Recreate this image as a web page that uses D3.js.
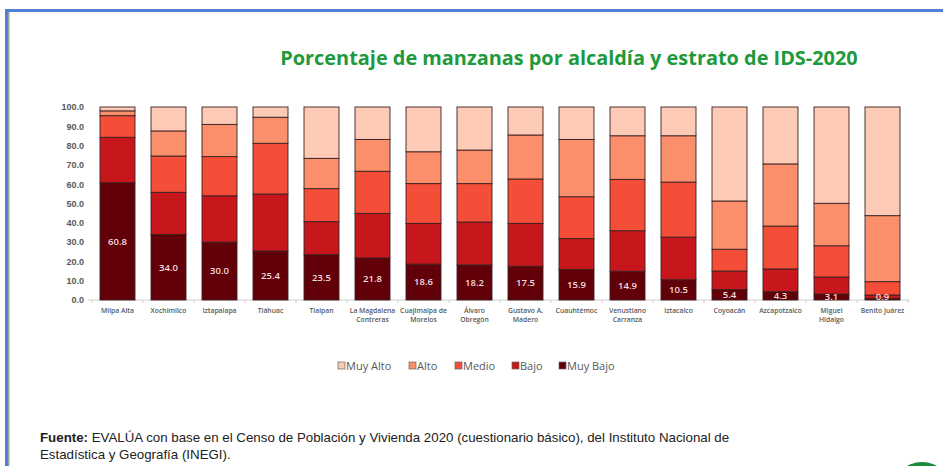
<!DOCTYPE html>
<html>
<head>
<meta charset="utf-8">
<script src="https://cdn.jsdelivr.net/npm/d3@7"></script>
<style>
  html, body { margin: 0; padding: 0; background: #fff; }
  svg { display: block; font-family: "Open Sans", "DejaVu Sans", sans-serif; }
</style>
</head>
<body>
<svg width="943" height="466"></svg>
<script>
// alcaldías, in the order shown
var categories = ["Milpa Alta", "Xochimilco", "Iztapalapa", "Tláhuac", "Tlalpan",
  "La Magdalena Contreras", "Cuajimalpa de Morelos", "Álvaro Obregón", "Gustavo A. Madero",
  "Cuauhtémoc", "Venustiano Carranza", "Iztacalco", "Coyoacán", "Azcapotzalco",
  "Miguel Hidalgo", "Benito Juárez"];

// axis label lines
var labelLines = [["Milpa Alta"], ["Xochimilco"], ["Iztapalapa"], ["Tláhuac"], ["Tlalpan"],
  ["La Magdalena", "Contreras"], ["Cuajimalpa de", "Morelos"], ["Álvaro", "Obregón"],
  ["Gustavo A.", "Madero"], ["Cuauhtémoc"], ["Venustiano", "Carranza"], ["Iztacalco"],
  ["Coyoacán"], ["Azcapotzalco"], ["Miguel", "Hidalgo"], ["Benito Juárez"]];

var muyBajo = [60.8, 34.0, 30.0, 25.4, 23.5, 21.8, 18.6, 18.2, 17.5, 15.9, 14.9, 10.5, 5.4, 4.3, 3.1, 0.9];
var bajo    = [23.5, 21.8, 24.0, 29.5, 17.1, 23.1, 21.1, 22.2, 22.2, 15.9, 21.0, 22.1, 9.6, 11.8, 8.8, 1.7];
var medio   = [11.2, 18.8, 20.3, 26.3, 17.1, 21.8, 20.6, 19.9, 23.0, 21.7, 26.6, 28.5, 11.3, 22.2, 16.2, 6.9];
var alto    = [2.5, 13.0, 16.7, 13.5, 15.7, 16.5, 16.5, 17.4, 22.8, 29.7, 22.6, 24.0, 25.0, 32.2, 22.0, 34.2];
var muyAlto = [2.0, 12.4, 9.0, 5.3, 26.6, 16.8, 23.2, 22.3, 14.5, 16.8, 14.9, 14.9, 48.7, 29.5, 49.9, 56.3];

var keys = ["Muy Bajo", "Bajo", "Medio", "Alto", "Muy Alto"];
var series = [muyBajo, bajo, medio, alto, muyAlto];
var yTicks = [0, 10, 20, 30, 40, 50, 60, 70, 80, 90, 100];

var svg = d3.select("svg");

// slide frame
svg.append("rect").attr("x", 5).attr("y", 9).attr("width", 943).attr("height", 3).attr("fill", "#4f7fd6");
svg.append("rect").attr("x", 5).attr("y", 9).attr("width", 3).attr("height", 466).attr("fill", "#4f7fd6");
svg.append("rect").attr("x", 8).attr("y", 12).attr("width", 1.5).attr("height", 466).attr("fill", "#9aa0aa");

svg.append("text")
    .attr("x", 569)
    .attr("y", 65)
    .attr("text-anchor", "middle")
    .attr("fill", "#1e9a3c")
    .attr("font-size", 19.9)
    .attr("font-weight", "bold")
    .text("Porcentaje de manzanas por alcaldía y estrato de IDS-2020");

var x = d3.scaleBand()
    .domain(categories)
    .range([92, 908])
    .paddingInner(0.314)
    .paddingOuter(0.157);

var y = d3.scaleLinear()
    .domain([0, 100])
    .range([300, 107]);

var z = d3.scaleOrdinal()
    .domain(keys)
    .range(["#620009", "#c8171c", "#f44d38", "#fc8f6b", "#fdcab5"]);

var table = categories.map(function(c, i) {
    var row = { cat: c };
    keys.forEach(function(k, j) { row[k] = series[j][i]; });
    return row;
});

// y axis
var yAxis = svg.append("g")
    .attr("transform", "translate(84,0)")
    .call(d3.axisLeft(y).tickValues(yTicks).tickSize(0).tickFormat(d3.format(".1f")));
yAxis.select(".domain").remove();
yAxis.selectAll("text")
    .attr("fill", "#595959")
    .attr("font-size", 9)
    .attr("font-weight", "bold")
    .attr("x", 0);

// baseline and category ticks
svg.append("line")
    .attr("x1", 88).attr("x2", 910)
    .attr("y1", y(0)).attr("y2", y(0))
    .attr("stroke", "#d0d0d0").attr("stroke-width", 1);

var gap = x.step() - x.bandwidth();
svg.append("g").selectAll("line")
    .data(categories.concat(["end"]))
    .enter().append("line")
    .attr("x1", function(d, i) { return x.range()[0] + x.step() * x.paddingOuter() + i * x.step() - gap / 2; })
    .attr("x2", function(d, i) { return x.range()[0] + x.step() * x.paddingOuter() + i * x.step() - gap / 2; })
    .attr("y1", y(0)).attr("y2", y(0) + 3)
    .attr("stroke", "#d0d0d0");

// stacked bars
var stack = d3.stack().keys(keys)(table);

svg.append("g")
    .selectAll("g")
    .data(stack)
    .enter().append("g")
        .attr("fill", function(d) { return z(d.key); })
    .selectAll("rect")
    .data(function(d) { return d; })
    .enter().append("rect")
        .attr("x", function(d) { return x(d.data.cat); })
        .attr("y", function(d) { return y(d[1]); })
        .attr("height", function(d) { return y(d[0]) - y(d[1]); })
        .attr("width", x.bandwidth())
        .attr("stroke", "#3a2020")
        .attr("stroke-width", 0.9);

// values in Muy Bajo segment
svg.append("g")
    .selectAll("text")
    .data(stack[0])
    .enter().append("text")
        .attr("x", function(d) { return x(d.data.cat) + x.bandwidth() / 2; })
        .attr("y", function(d) { return Math.min((y(d[0]) + y(d[1])) / 2, 297); })
        .attr("dy", "0.35em")
        .attr("text-anchor", "middle")
        .attr("fill", "#f3dcdc")
        .attr("font-size", 9.5)
        .attr("font-weight", 600)
        .text(function(d) { return d3.format(".1f")(d.data["Muy Bajo"]); });

// category labels
var xl = svg.append("g")
    .selectAll("text")
    .data(categories)
    .enter().append("text")
        .attr("x", function(d) { return x(d) + x.bandwidth() / 2; })
        .attr("y", 313)
        .attr("text-anchor", "middle")
        .attr("fill", "#595959")
        .attr("font-size", 6.8)
        .attr("font-weight", 600);
xl.selectAll("tspan")
    .data(function(d, i) { return labelLines[i]; })
    .enter().append("tspan")
        .attr("x", function() { return d3.select(this.parentNode).attr("x"); })
        .attr("dy", function(d, i) { return i ? 9 : 0; })
        .text(function(d) { return d; });

// legend
var legendKeys = ["Muy Alto", "Alto", "Medio", "Bajo", "Muy Bajo"];
var legendX = [338, 409, 455, 512, 559];
var legend = svg.append("g")
    .selectAll("g")
    .data(legendKeys)
    .enter().append("g")
        .attr("transform", function(d, i) { return "translate(" + legendX[i] + ",362)"; });

legend.append("rect")
    .attr("width", 7).attr("height", 7)
    .attr("fill", z)
    .attr("stroke", "#666").attr("stroke-width", 0.7);

legend.append("text")
    .attr("x", 8)
    .attr("y", 4)
    .attr("dy", "0.35em")
    .attr("fill", "#595959")
    .attr("font-size", 11)
    .text(function(d) { return d; });

// source
var src = svg.append("text")
    .attr("x", 40)
    .attr("y", 442)
    .attr("fill", "#222")
    .attr("font-size", 13.3)
    .attr("font-family", "'Liberation Sans Narrow', 'Liberation Sans', sans-serif");
src.append("tspan").attr("font-weight", "bold").text("Fuente:");
src.append("tspan").text(" EVALÚA con base en el Censo de  Población y Vivienda 2020 (cuestionario básico), del Instituto Nacional de");
svg.append("text")
    .attr("x", 40)
    .attr("y", 459)
    .attr("fill", "#222")
    .attr("font-size", 13.3)
    .attr("font-family", "'Liberation Sans Narrow', 'Liberation Sans', sans-serif")
    .text("Estadística y Geografía (INEGI).");

// logo edge in the corner
svg.append("circle")
    .attr("cx", 922).attr("cy", 492).attr("r", 30)
    .attr("fill", "#1e8a3a");
</script>
</body>
</html>
